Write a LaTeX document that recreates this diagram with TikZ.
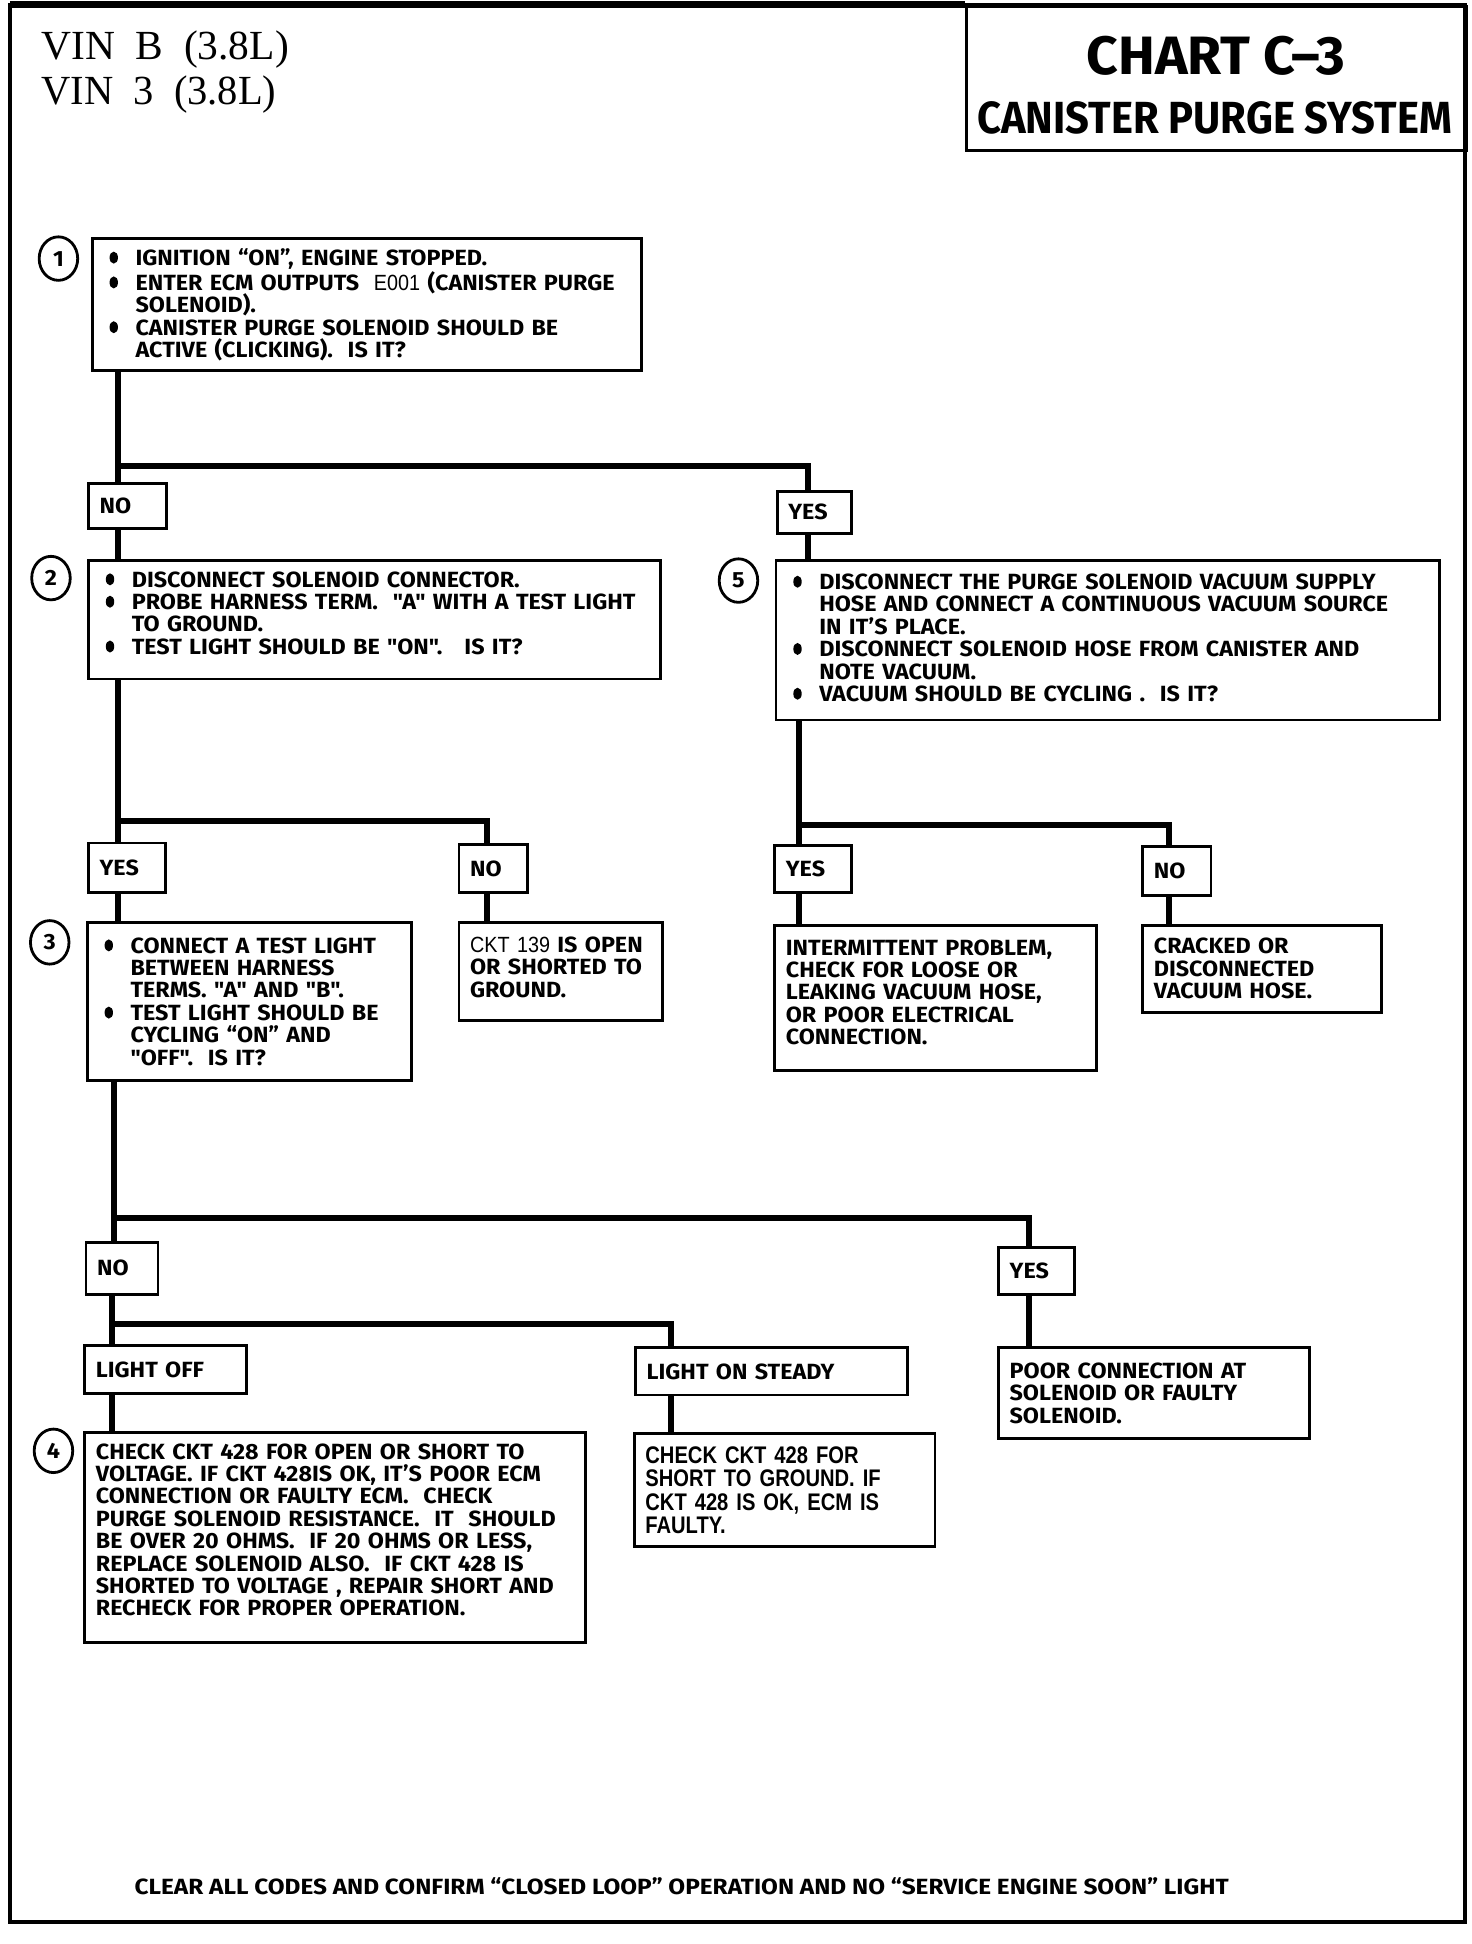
\documentclass[tikz,border=0pt]{standalone}
\usepackage{fontspec}
\usepackage{graphicx}
\usetikzlibrary{shapes.geometric}
\setmainfont{Fira Sans}
\newfontfamily\gmfont[FakeStretch=1.06]{Fira Sans}
\newfontfamily\hnfont[FakeStretch=0.9]{Liberation Sans}
\newfontfamily\hnbfont[FakeStretch=0.84]{Liberation Sans}
\newfontfamily\vinfont{Liberation Serif}
\def\pxu{0.6216pt}
\newcommand\bxfont{\gmfont\bfseries\fontsize{11}{11.2}\selectfont}
\newcommand\blt{\makebox[13pt][l]{\tikz[baseline=0pt]\fill (2.4pt,3.9pt) ellipse [x radius=2.1pt, y radius=3pt];}}
\newcommand\cnt{\hspace*{13pt}}
\newcommand\lift[1]{\par\kern#1}
\tikzset{
  bx/.style 2 args={draw, line width=1.4pt, fill=white, anchor=north west,
    minimum width={#1*\pxu}, minimum height={#2*\pxu},
    inner xsep={14*\pxu}, inner ysep=0pt, text width={(#1-28)*\pxu},
    align=left, font=\bxfont},
  tb/.style 2 args={bx={#1}{#2}, inner xsep={9*\pxu}, text width={(#1-18)*\pxu}},
  circ/.style={draw, ellipse, line width=1.4pt, minimum width={31*\pxu},
    minimum height={35*\pxu}, inner sep=0pt, font=\gmfont\bfseries\fontsize{11}{12}\selectfont},
  cn/.style={line width=3pt},
}
\begin{document}
\begin{tikzpicture}[x=0.6216pt, y=-0.6216pt]
\useasboundingbox (0,0) rectangle (1184,1563.7);
% frame
\draw[line width=2pt] (8,4) rectangle (1178,1546);
\draw[line width=3.5pt] (8,4) -- (776,4);
% title
\node[draw, line width=1.5pt, anchor=north west, minimum width={402*\pxu}, minimum height={116*\pxu}, inner sep=0pt] (title) at (776,4) {};
\node[font=\gmfont\bfseries\fontsize{27}{30}\selectfont, inner sep=0pt] (t1) at (978,45) {\resizebox{129.3pt}{\height}{CHART C–3}};
\node[font=\gmfont\bfseries\fontsize{22.5}{25}\selectfont, inner sep=0pt] (t2) at (977,95) {\resizebox{237.5pt}{\height}{CANISTER PURGE SYSTEM}};
\node[font=\vinfont\fontsize{20.7}{22}\selectfont, anchor=base west, inner sep=0pt] (v1) at (33,48) {\resizebox{123.7pt}{\height}{VIN\ \ B\ \ (3.8L)}};
\node[font=\vinfont\fontsize{20.7}{22}\selectfont, anchor=base west, inner sep=0pt] (v2) at (33,84) {\resizebox{117.5pt}{\height}{VIN\ \ 3\ \ (3.8L)}};
% boxes
\node[bx={442}{106}] (b1) at (73,191) {\blt IGNITION “ON”, ENGINE STOPPED.\\
\blt ENTER ECM OUTPUTS\ \ {\hnfont\mdseries E001} (CANISTER PURGE\\
\cnt SOLENOID).\\
\blt CANISTER PURGE SOLENOID SHOULD BE\\
\cnt ACTIVE (CLICKING).\ \ IS IT?};
\node[tb={63}{36}] (no1) at (70,388) {NO};
\node[tb={60}{34}] (yes1) at (624,394) {YES};
\node[bx={460}{95}] (b2) at (70,450) {\blt DISCONNECT SOLENOID CONNECTOR.\\
\blt PROBE HARNESS TERM.\ \ "A" WITH A TEST LIGHT\\
\cnt TO GROUND.\\
\blt TEST LIGHT SHOULD BE "ON".\ \ \ IS IT?\lift{6.8pt}};
\node[bx={534}{128}] (b5) at (623,450) {\blt DISCONNECT THE PURGE SOLENOID VACUUM SUPPLY\\
\cnt HOSE AND CONNECT A CONTINUOUS VACUUM SOURCE\\
\cnt IN IT’S PLACE.\\
\blt DISCONNECT SOLENOID HOSE FROM CANISTER AND\\
\cnt NOTE VACUUM.\\
\blt VACUUM SHOULD BE CYCLING .\ \ IS IT?\lift{2.5pt}};
\node[tb={62}{40}] (yes2) at (70,677) {YES};
\node[tb={55}{39}] (no2) at (368,678) {NO};
\node[bx={261}{127}] (b3) at (69,741) {\blt CONNECT A TEST LIGHT\\
\cnt BETWEEN HARNESS\\
\cnt TERMS. "A" AND "B".\\
\blt TEST LIGHT SHOULD BE\\
\cnt CYCLING “ON” AND\\
\cnt "OFF".\ \ IS IT?};
\node[tb={164}{79}] (b7) at (368,741) {{\hnfont\mdseries CKT 139} IS OPEN\\ OR SHORTED TO\\ GROUND.\lift{4.4pt}};
\node[tb={62}{38}] (yes3) at (622,679) {YES};
\node[tb={55}{39}] (no3) at (918,680) {NO};
\node[tb={259}{117}] (b6) at (622,743) {INTERMITTENT PROBLEM,\\ CHECK FOR LOOSE OR\\ LEAKING VACUUM HOSE,\\ OR POOR ELECTRICAL\\ CONNECTION.\lift{5.6pt}};
\node[tb={192}{70}] (b8) at (918,743) {CRACKED OR\\ DISCONNECTED\\ VACUUM HOSE.};
\node[tb={58}{42}] (no4) at (68,998) {NO};
\node[tb={61}{38}] (yes4) at (802,1002) {YES};
\node[tb={130}{39}] (loff) at (67,1081) {LIGHT OFF};
\node[tb={219}{38}] (lon) at (510,1083) {LIGHT ON STEADY};
\node[tb={403}{169}] (b4) at (67,1151) {CHECK CKT 428 FOR OPEN OR SHORT TO\\
VOLTAGE.\ IF CKT 428IS OK, IT’S POOR ECM\\
CONNECTION OR FAULTY ECM.\ \ CHECK\\
PURGE SOLENOID RESISTANCE.\ \ IT\ \ SHOULD\\
BE OVER 20 OHMS.\ \ IF 20 OHMS OR LESS,\\
REPLACE SOLENOID ALSO.\ \ IF CKT 428 IS\\
SHORTED TO VOLTAGE , REPAIR SHORT AND\\
RECHECK FOR PROPER OPERATION.\lift{7.5pt}};
\node[tb={242}{91}, font=\hnbfont\bfseries\fontsize{12}{11.8}\selectfont] (b9) at (509,1152) {CHECK CKT 428 FOR\\ SHORT\ TO GROUND. IF\\ CKT 428 IS OK, ECM IS\\ FAULTY.};
\node[tb={250}{73}] (b10) at (802,1083) {POOR CONNECTION AT\\ SOLENOID OR FAULTY\\ SOLENOID.};
% step circles
\node[circ] (c1) at (47,208) {1};
\node[circ] (c2) at (41,465) {2};
\node[circ] (c5) at (594,467) {5};
\node[circ] (c3) at (40,758) {3};
\node[circ] (c4) at (43,1167) {4};
% junctions
\coordinate (j1) at (95,375); \coordinate (j1r) at (650,375);
\coordinate (j2) at (95,660); \coordinate (j2r) at (392,660);
\coordinate (j3) at (643,664); \coordinate (j3r) at (940,664);
\coordinate (j4) at (92,980); \coordinate (j4r) at (828,980);
\coordinate (j5) at (90,1065); \coordinate (j5r) at (540,1065);
% connectors
\draw[cn] (b1.south -| j1) -- (j1) -- (j1r) -- (yes1.north -| j1r);
\draw[cn] (j1) -- (no1.north -| j1);
\draw[cn] (no1.south -| j1) -- (b2.north -| j1);
\draw[cn] (yes1.south -| j1r) -- (b5.north -| j1r);
\draw[cn] (b2.south -| j2) -- (j2) -- (j2r) -- (no2.north -| j2r);
\draw[cn] (j2) -- (yes2.north -| j2);
\draw[cn] (yes2.south -| j2) -- (b3.north -| j2);
\draw[cn] (no2.south -| j2r) -- (b7.north -| j2r);
\draw[cn] (b5.south -| j3) -- (j3) -- (j3r) -- (no3.north -| j3r);
\draw[cn] (j3) -- (yes3.north -| j3);
\draw[cn] (yes3.south -| j3) -- (b6.north -| j3);
\draw[cn] (no3.south -| j3r) -- (b8.north -| j3r);
\draw[cn] (b3.south -| j4) -- (j4) -- (j4r) -- (yes4.north -| j4r);
\draw[cn] (j4) -- (no4.north -| j4);
\draw[cn] (yes4.south -| j4r) -- (b10.north -| j4r);
\draw[cn] (no4.south -| j5) -- (j5) -- (j5r) -- (lon.north -| j5r);
\draw[cn] (j5) -- (loff.north -| j5);
\draw[cn] (loff.south -| j5) -- (b4.north -| j5);
\draw[cn] (lon.south -| j5r) -- (b9.north -| j5r);
% footer
\node[font=\bxfont, anchor=base west, inner sep=0pt] (foot) at (108,1524) {\resizebox{547pt}{\height}{CLEAR ALL CODES AND CONFIRM “CLOSED LOOP” OPERATION AND NO “SERVICE ENGINE SOON” LIGHT}};
\end{tikzpicture}
\end{document}
